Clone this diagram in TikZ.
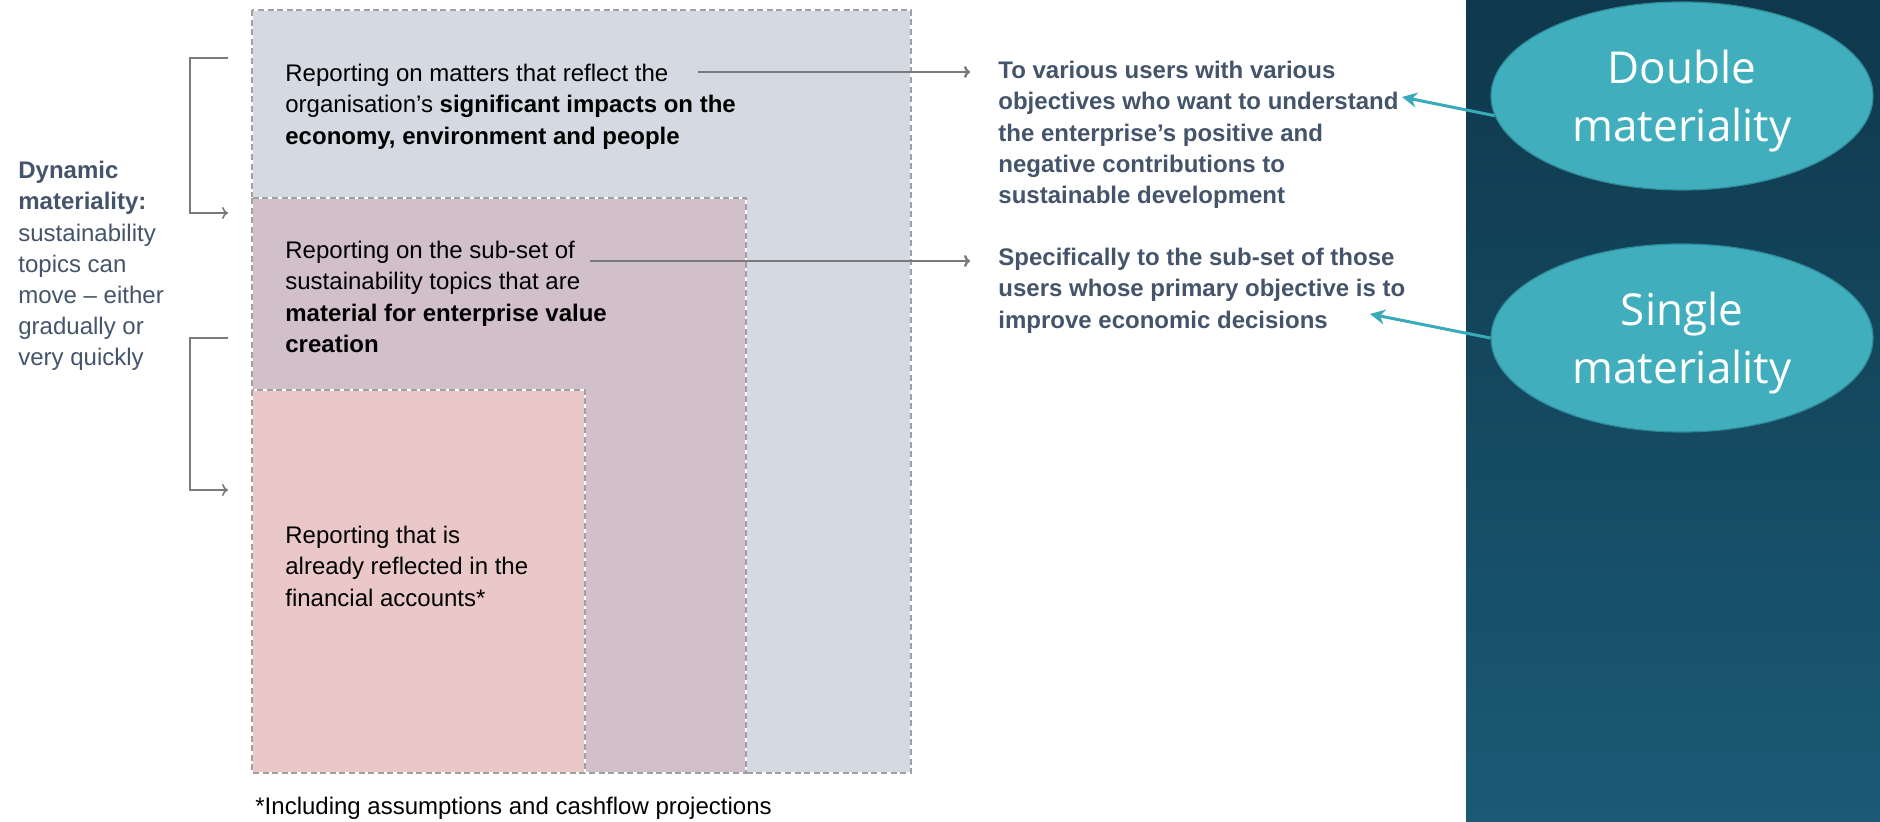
\documentclass[tikz,border=0pt]{standalone}
\usepackage{fontspec}
\setmainfont{Liberation Sans}
\newfontfamily\ellfont{Open Sans}
\usetikzlibrary{arrows.meta,shapes.geometric}

\definecolor{boxgray}{HTML}{D5D9E1}
\definecolor{boxmauve}{HTML}{D1BFC9}
\definecolor{boxpink}{HTML}{EAC8C8}
\definecolor{edgegray}{HTML}{A0A0A0}
\definecolor{slate}{HTML}{44546A}
\definecolor{leadgray}{HTML}{7A7A7A}
\definecolor{paneltop}{HTML}{0F384C}
\definecolor{panelbot}{HTML}{1A5A75}
\definecolor{tealfill}{HTML}{41AEBD}
\definecolor{tealedge}{HTML}{2E8A97}
\definecolor{tealline}{HTML}{3AAAB9}

\begin{document}
\begin{tikzpicture}[x=0.5pt,y=-0.5pt,
  zone/.style={fill=#1, draw=white, line width=1.2pt,
    postaction={draw=edgegray, line width=1.2pt, dash pattern=on 3pt off 1.8pt}},
  txt/.style={anchor=north west, inner sep=0pt, align=left,
    font=\fontsize{12}{15.6}\selectfont},
  usertxt/.style={txt, text=slate, font=\fontsize{12}{15.6}\selectfont\bfseries},
  leadarrow/.style={draw=leadgray, line width=1.2pt, -{To[length=3pt,width=6pt]}},
  bracket/.style={draw=leadgray, line width=0.8pt, -{To[length=3pt,width=6pt]}},
  ell/.style={ellipse, fill=tealfill, draw=tealedge, line width=0.6pt,
    minimum width=191pt, minimum height=94pt, inner sep=0pt, align=center,
    text=white, font=\ellfont\fontsize{22}{29}\selectfont},
  tealarrow/.style={draw=tealline, line width=1.5pt, -{Stealth[length=7.5pt,width=7.5pt]}}
]
\useasboundingbox (0,0) rectangle (1880,822);
\fill[white] (0,0) rectangle (1880,822);

% nested reporting scopes
\path[zone=boxgray]  (252,10)  rectangle (911,773);
\path[zone=boxmauve] (252,198) rectangle (746,773);
\path[zone=boxpink]  (252,390) rectangle (585,773);

\node[txt] (t1) at (285,64) {Reporting on matters that reflect the\\organisation’s \textbf{significant impacts on the}\\\textbf{economy, environment and people}};
\node[txt] (t2) at (285,241) {Reporting on the sub-set of\\sustainability topics that are\\\textbf{material for enterprise value}\\\textbf{creation}};
\node[txt] (t3) at (285,526) {Reporting that is\\already reflected in the\\financial accounts*};
\node[txt] (note) at (255,797) {*Including assumptions and cashflow projections};

% dynamic materiality note and brackets
\node[txt, text=slate] (dyn) at (18,161) {\textbf{Dynamic}\\\textbf{materiality:}\\sustainability\\topics can\\move – either\\gradually or\\very quickly};
\coordinate (b1a) at (228,58);
\coordinate (b1b) at (228,213);
\coordinate (b2a) at (228,338);
\coordinate (b2b) at (228,490);
\draw[bracket] (b1a) -- ++(-38,0) |- (b1b);
\draw[bracket] (b2a) -- ++(-38,0) |- (b2b);

% audiences
\node[usertxt] (u1) at (998,61) {To various users with various\\objectives who want to understand\\the enterprise’s positive and\\negative contributions to\\sustainable development};
\node[usertxt] (u2) at (998,248) {Specifically to the sub-set of those\\users whose primary objective is to\\improve economic decisions};

\coordinate (s1) at (698,72);
\coordinate (s2) at (590,261);
\draw[leadarrow, shorten >=14pt] (s1) -- (s1 -| u1.west);
\draw[leadarrow, shorten >=14pt] (s2) -- (s2 -| u2.west);

% side panel with materiality labels
\shade[top color=paneltop, bottom color=panelbot] (1466,0) rectangle (1880,822);
\node[ell] (dbl) at (1682,96) {\rule{0pt}{22pt}Double\\materiality};
\node[ell] (sgl) at (1682,338) {\rule{0pt}{22pt}Single\\materiality};

\coordinate (d1) at (1402,97);
\coordinate (d2) at (1370,314);
\draw[tealarrow] (dbl.186) -- (d1);
\draw[tealarrow] (sgl.west) -- (d2);
\end{tikzpicture}
\end{document}
